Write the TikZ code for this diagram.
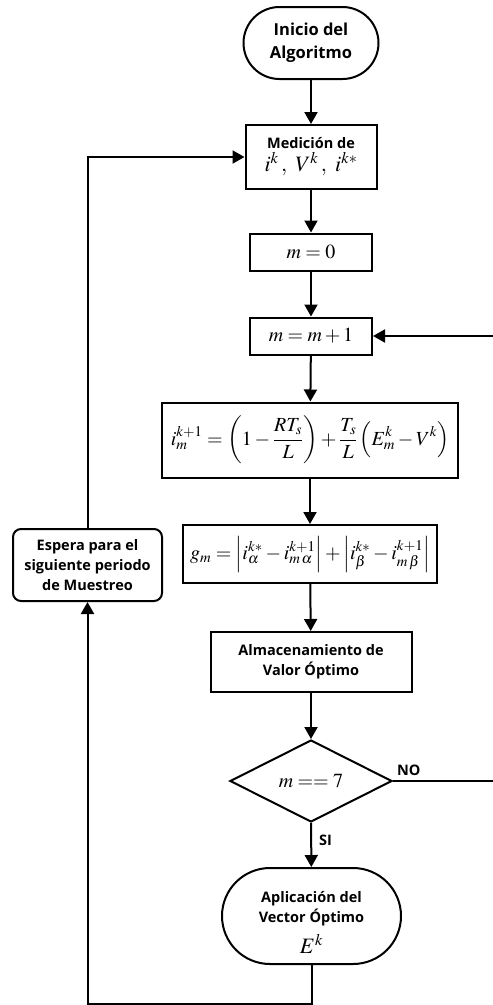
\documentclass[tikz,border=0pt]{standalone}
\usepackage{mathptmx}
\usepackage[no-math]{fontspec}
\newfontfamily\labelfont{Open Sans}
\usetikzlibrary{shapes.geometric,arrows.meta}

\tikzset{
  flow/.style={draw, line width=2pt, inner sep=0pt, align=center,
    font=\labelfont\bfseries\fontsize{14.5}{20}\selectfont},
  box/.style={flow, rectangle},
  startbox/.style={flow, rounded corners=36pt, minimum width=135pt, minimum height=72pt,
    font=\labelfont\bfseries\fontsize{16.5}{23}\selectfont},
  endbox/.style={flow, rounded corners=48pt, minimum width=179pt, minimum height=96pt},
  waitbox/.style={flow, rounded corners=8pt, minimum width=149pt, minimum height=72pt},
  decision/.style={flow, diamond, minimum width=162pt, minimum height=82pt},
  arr/.style={line width=2pt, -{Triangle[length=12pt,width=13pt]}},
  tag/.style={font=\labelfont\bfseries\fontsize{14.5}{18}\selectfont, inner sep=3pt}
}
\newcommand{\bigmath}{\fontsize{20}{24}\selectfont}

\begin{document}
\begin{tikzpicture}[x=1pt,y=-1pt]
  \useasboundingbox (0,0) rectangle (493,1005);

  \node[startbox] (start) at (311,43) {Inicio del\\Algoritmo};
  \node[box, minimum width=131pt, minimum height=64pt] (med) at (311,157)
    {Medición de\\[3pt]{\fontsize{22}{22}\selectfont$i^k\,,\ V^k\,,\ i^{k*}$}};
  \node[box, minimum width=122pt, minimum height=37pt] (m0) at (311,252)
    {\bigmath$m=0$};
  \node[box, minimum width=122pt, minimum height=37pt] (m1) at (311,336)
    {\bigmath$m=m+1$};
  \node[box, minimum width=296pt, minimum height=75pt] (pred) at (310,440)
    {\bigmath$\displaystyle i_m^{k+1}=\left(1-\frac{RT_s}{L}\right)+\frac{T_s}{L}\left(E_m^k-V^k\right)$};
  \node[box, minimum width=254pt, minimum height=58pt] (cost) at (310,554)
    {\bigmath$g_m=\Bigl|i_\alpha^{k*}-i_{m\,\alpha}^{k+1}\Bigr|+\Bigl|i_\beta^{k*}-i_{m\,\beta}^{k+1}\Bigr|$};
  \node[box, minimum width=201pt, minimum height=60pt] (store) at (311,662)
    {Almacenamiento de\\Valor Óptimo};
  \node[decision] (dec) at (311,781) {\bigmath$m==7$};
  \node[endbox] (apl) at (311.5,916)
    {\rule{0pt}{24pt}Aplicación del\\Vector Óptimo\\[8pt]{\fontsize{22}{22}\selectfont$E^k$}};
  \node[waitbox] (wait) at (87.5,565)
    {Espera para el\\siguiente periodo\\de Muestreo};

  \coordinate (rt) at (495,781);

  \draw[arr] (start) -- (med);
  \draw[arr] (med) -- (m0);
  \draw[arr] (m0) -- (m1);
  \draw[arr] (m1) -- (pred);
  \draw[arr] (pred) -- (cost);
  \draw[arr] (cost) -- (store);
  \draw[arr] (store) -- (dec);
  \draw[arr] (dec) -- node[tag, right, pos=0.4, xshift=4pt] {SI} (apl);
  \draw[arr] (dec.east) -- node[tag, above right, pos=0, yshift=1pt] {NO} (rt) |- (m1.east);
  \draw[arr] (apl.south) -- ++(0,39) -| (wait.south);
  \draw[arr] (wait.north) |- (med.west);
\end{tikzpicture}
\end{document}
